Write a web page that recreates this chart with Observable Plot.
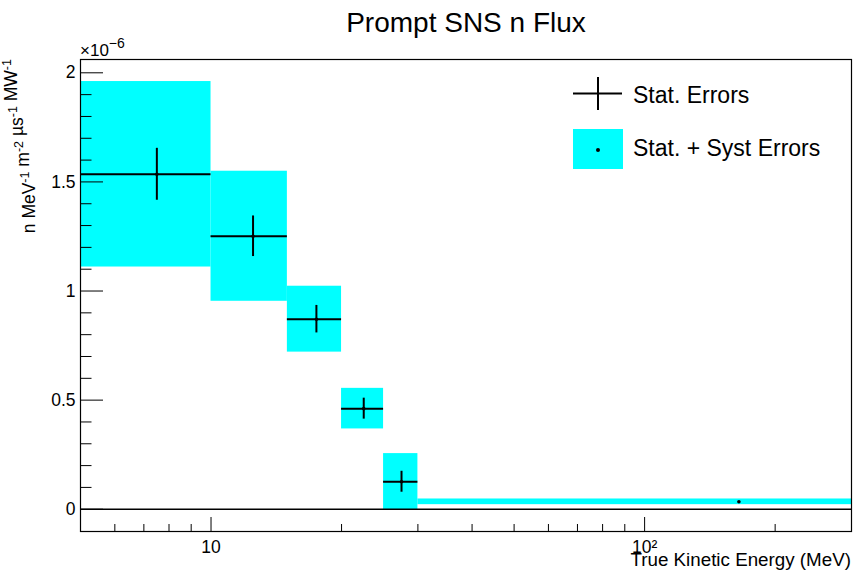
<!DOCTYPE html>
<html><head><meta charset="utf-8">
<script src="https://cdn.jsdelivr.net/npm/d3@7"></script>
<script src="https://cdn.jsdelivr.net/npm/@observablehq/plot@0.6"></script>
<style>
body{margin:0;background:#fff}
#chart{position:relative;width:856px;height:576px}
</style>
</head><body><div id="chart"></div>
<script>
// Flux values in units of 1e-6 (n MeV^-1 m^-2 µs^-1 MW^-1)
const binLow    = [5, 10, 15, 20, 25, 30];
const binHigh   = [10, 15, 20, 25, 30, 300];
const binCenter = [7.5, 12.5, 17.5, 22.5, 27.5, 165];
const flux      = [1.535, 1.251, 0.871, 0.461, 0.126, 0.034];
const statErr   = [0.119, 0.093, 0.063, 0.048, 0.048, null];
const totalErr  = [0.425, 0.298, 0.151, 0.093, 0.129, 0.013];

const yMajorTicks = [0, 0.5, 1, 1.5, 2];
const yMinorTicks = [0.1, 0.2, 0.3, 0.4, 0.6, 0.7, 0.8, 0.9, 1.1, 1.2, 1.3, 1.4, 1.6, 1.7, 1.8, 1.9];
const xMajorTicks = [10, 100];
const xMajorLabels = ["10", "10²"];
const xMinorTicks = [6, 7, 8, 9, 20, 30, 40, 50, 60, 70, 80, 90, 200];

const bins = binLow.map((lo, i) => ({lo, hi: binHigh[i], c: binCenter[i], v: flux[i], s: statErr[i], t: totalErr[i]}));
const statBins = bins.filter(d => d.s != null);

const W = 856, H = 576;
const M = {left: 80, right: 5, top: 59, bottom: 45};
const fw = W - M.left - M.right;
const fh = H - M.top - M.bottom;
const FONT = "'Liberation Sans', Arial, Helvetica, sans-serif";

const plot = Plot.plot({
  width: W, height: H,
  marginLeft: M.left, marginRight: M.right, marginTop: M.top, marginBottom: M.bottom,
  style: {fontFamily: FONT, background: "white", color: "black"},
  x: {type: "log", domain: [5, 300]},
  y: {domain: [-0.102, 2.061]},
  marks: [
    Plot.rect(bins, {x1: "lo", x2: "hi", y1: d => d.v - d.t, y2: d => d.v + d.t, fill: "#00ffff"}),
    Plot.ruleY([0], {stroke: "black", strokeWidth: 1.3}),
    Plot.dot(bins, {x: "c", y: "v", r: 1.8, fill: "black", stroke: null}),
    Plot.ruleY(statBins, {x1: "lo", x2: "hi", y: "v", stroke: "black", strokeWidth: 2}),
    Plot.ruleX(statBins, {x: "c", y1: d => d.v - d.s, y2: d => d.v + d.s, stroke: "black", strokeWidth: 2}),
    Plot.tickY(yMajorTicks, {y: d => d, insetRight: fw - 23, stroke: "black", strokeWidth: 1}),
    Plot.tickY(yMinorTicks, {y: d => d, insetRight: fw - 11.5, stroke: "black", strokeWidth: 1}),
    Plot.tickX(xMajorTicks, {x: d => d, insetTop: fh - 14, stroke: "black", strokeWidth: 1}),
    Plot.tickX(xMinorTicks, {x: d => d, insetTop: fh - 7, stroke: "black", strokeWidth: 1}),
    Plot.axisY({ticks: yMajorTicks, tickSize: 0, tickPadding: 5, fontSize: 17.5, tickFormat: d => String(d), label: null}),
    Plot.axisX({ticks: xMajorTicks, tickSize: 0, tickPadding: 9, fontSize: 17.5, tickFormat: d => xMajorLabels[xMajorTicks.indexOf(d)], label: null}),
    Plot.frame({stroke: "black", strokeWidth: 1.2})
  ]
});
document.getElementById("chart").appendChild(plot);

const svg = d3.select(plot);
const g = svg.append("g").attr("font-family", FONT).attr("fill", "black").attr("text-anchor", "start");

// Title
g.append("text").attr("x", 466).attr("y", 32).attr("text-anchor", "middle")
  .attr("font-size", 28).text("Prompt SNS n Flux");

// Exponent
const ex = g.append("text").attr("x", 80).attr("y", 56).attr("font-size", 17).attr("text-anchor", "start");
ex.append("tspan").text("×10");
ex.append("tspan").attr("dy", -8).attr("font-size", 14).text("−6");

// X title
g.append("text").attr("x", 851).attr("y", 566).attr("text-anchor", "end")
  .attr("font-size", 18.8).text("True Kinetic Energy (MeV)");

// Y title
const yt = g.append("text").attr("transform", "translate(35,59) rotate(-90)")
  .attr("text-anchor", "end").attr("font-size", 17.5);
const parts = [["n MeV", "-1"], [" m", "-2"], [" µs", "-1"], [" MW", "-1"]];
parts.forEach(([base, sup]) => {
  yt.append("tspan").text(base);
  yt.append("tspan").attr("dy", -6).attr("font-size", 12.5).text(sup);
  yt.append("tspan").attr("dy", 6).text("");
});

// Legend
const lg = svg.append("g").attr("text-anchor", "start");
lg.append("line").attr("x1", 573).attr("x2", 622).attr("y1", 93.5).attr("y2", 93.5).attr("stroke", "black").attr("stroke-width", 2);
lg.append("line").attr("x1", 598).attr("x2", 598).attr("y1", 77).attr("y2", 110).attr("stroke", "black").attr("stroke-width", 2);
lg.append("rect").attr("x", 573).attr("y", 129).attr("width", 50).attr("height", 40).attr("fill", "#00ffff");
lg.append("circle").attr("cx", 598).attr("cy", 150).attr("r", 2).attr("fill", "black");
lg.append("text").attr("x", 633).attr("y", 103).attr("font-family", FONT).attr("font-size", 23).attr("text-anchor", "start").text("Stat. Errors");
lg.append("text").attr("x", 633).attr("y", 156).attr("font-family", FONT).attr("font-size", 23).attr("text-anchor", "start").text("Stat. + Syst Errors");
</script>
</body></html>
